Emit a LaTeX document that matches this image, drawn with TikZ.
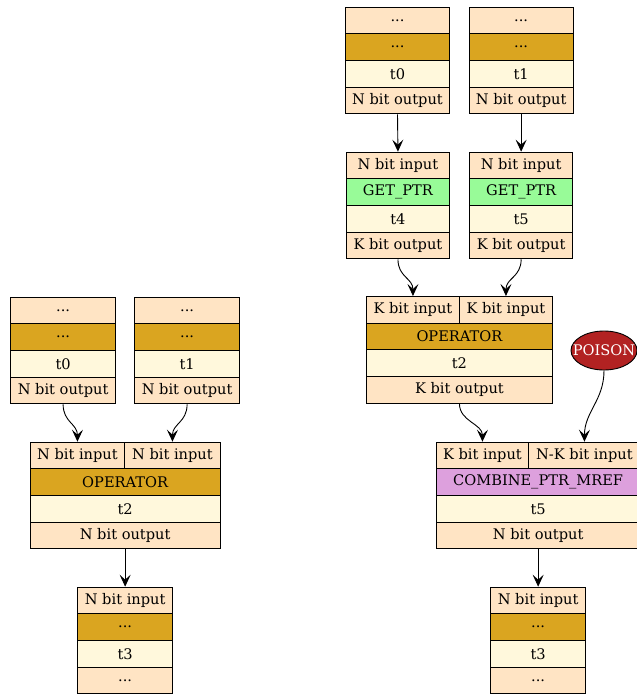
\documentclass[tikz,border=0pt]{standalone}
\usepackage{fontspec}
\setmainfont{DejaVu Serif}
\usetikzlibrary{arrows.meta,shapes.geometric}
\definecolor{bisque}{HTML}{FFE4C4}
\definecolor{goldenrod}{HTML}{DAA520}
\definecolor{cornsilk}{HTML}{FFF8DC}
\definecolor{palegreen}{HTML}{98FB98}
\definecolor{plum}{HTML}{DDA0DD}
\definecolor{firebrick}{HTML}{B22222}
\tikzset{
  cell/.style={draw=black, line width=0.9pt, inner sep=0pt, anchor=north west,
    minimum height=26.67pt, font=\fontsize{14.6}{16}\selectfont},
  bq/.style={cell, fill=bisque},
  gr/.style={cell, fill=goldenrod},
  cs/.style={cell, fill=cornsilk},
  pg/.style={cell, fill=palegreen},
  pl/.style={cell, fill=plum},
  edge/.style={-{Stealth[length=12pt,width=11pt,inset=5pt]}, line width=0.9pt},
}
\begin{document}
\begin{tikzpicture}[x=1pt,y=-1pt]
\useasboundingbox (0,0) rectangle (637,696);
% ---------------- left graph ----------------
\node[bq, minimum width=104.7pt] (l0a) at (10.3,296.7) {...};
\node[gr, minimum width=104.7pt] (l0b) at (10.3,323.3) {...};
\node[cs, minimum width=104.7pt] (l0c) at (10.3,350) {t0};
\node[bq, minimum width=104.7pt] (l0d) at (10.3,376.7) {N bit output};
\node[bq, minimum width=104.7pt] (l1a) at (134.3,296.7) {...};
\node[gr, minimum width=104.7pt] (l1b) at (134.3,323.3) {...};
\node[cs, minimum width=104.7pt] (l1c) at (134.3,350) {t1};
\node[bq, minimum width=104.7pt] (l1d) at (134.3,376.7) {N bit output};
\node[bq, minimum width=94.6pt] (lopa) at (29.7,441.7) {N bit input};
\node[bq, minimum width=95.4pt] (lopb) at (124.3,441.7) {N bit input};
\node[gr, minimum width=190pt] (lopc) at (29.7,468.3) {OPERATOR};
\node[cs, minimum width=190pt] (lopd) at (29.7,495) {t2};
\node[bq, minimum width=190pt] (lope) at (29.7,521.7) {N bit output};
\node[bq, minimum width=95pt] (l3a) at (77.2,586.7) {N bit input};
\node[gr, minimum width=95pt] (l3b) at (77.2,613.3) {...};
\node[cs, minimum width=95pt] (l3c) at (77.2,640) {t3};
\node[bq, minimum width=95pt] (l3d) at (77.2,666.7) {...};
\draw[edge] (l0d.south) .. controls +(0,18) and +(0,-18) .. (lopa.north);
\draw[edge] (l1d.south) .. controls +(0,18) and +(0,-18) .. (lopb.north);
\draw[edge] (lope.south) -- (l3a.north);
% ---------------- right graph ----------------
\node[bq, minimum width=104.7pt] (r0a) at (344.7,6.7) {...};
\node[gr, minimum width=104.7pt] (r0b) at (344.7,33.3) {...};
\node[cs, minimum width=104.7pt] (r0c) at (344.7,60) {t0};
\node[bq, minimum width=104.7pt] (r0d) at (344.7,86.7) {N bit output};
\node[bq, minimum width=104pt] (r1a) at (468.7,6.7) {...};
\node[gr, minimum width=104pt] (r1b) at (468.7,33.3) {...};
\node[cs, minimum width=104pt] (r1c) at (468.7,60) {t1};
\node[bq, minimum width=104pt] (r1d) at (468.7,86.7) {N bit output};
\node[bq, minimum width=103.6pt] (r4a) at (345.7,151.7) {N bit input};
\node[pg, minimum width=103.6pt] (r4b) at (345.7,178.3) {GET\_PTR};
\node[cs, minimum width=103.6pt] (r4c) at (345.7,205) {t4};
\node[bq, minimum width=103.6pt] (r4d) at (345.7,231.7) {K bit output};
\node[bq, minimum width=103pt] (r5a) at (469.2,151.7) {N bit input};
\node[pg, minimum width=103pt] (r5b) at (469.2,178.3) {GET\_PTR};
\node[cs, minimum width=103pt] (r5c) at (469.2,205) {t5};
\node[bq, minimum width=103pt] (r5d) at (469.2,231.7) {K bit output};
\node[bq, minimum width=93pt] (ropa) at (366,296) {K bit input};
\node[bq, minimum width=93pt] (ropb) at (459,296) {K bit input};
\node[gr, minimum width=186pt] (ropc) at (366,322.7) {OPERATOR};
\node[cs, minimum width=186pt] (ropd) at (366,349.3) {t2};
\node[bq, minimum width=186pt] (rope) at (366,376) {K bit output};
\node[ellipse, draw=black, line width=0.9pt, fill=firebrick,
  minimum width=66pt, minimum height=39pt, inner sep=0pt,
  label={[text=white, inner sep=0pt, font=\fontsize{14.6}{16}\selectfont]center:POISON}]
  (poison) at (604,350.5) {};
\node[bq, minimum width=92.6pt] (cba) at (435.7,441.7) {K bit input};
\node[bq, minimum width=111.4pt] (cbb) at (528.3,441.7) {N-K bit input};
\node[pl, minimum width=204pt] (cbc) at (435.7,468.3) {COMBINE\_PTR\_MREF};
\node[cs, minimum width=204pt] (cbd) at (435.7,495) {t5};
\node[bq, minimum width=204pt] (cbe) at (435.7,521.7) {N bit output};
\node[bq, minimum width=95pt] (r3a) at (490.2,586.7) {N bit input};
\node[gr, minimum width=95pt] (r3b) at (490.2,613.3) {...};
\node[cs, minimum width=95pt] (r3c) at (490.2,640) {t3};
\node[bq, minimum width=95pt] (r3d) at (490.2,666.7) {...};
\draw[edge] (r0d.south) -- (r4a.north);
\draw[edge] (r1d.south) -- (r5a.north);
\draw[edge] (r4d.south) .. controls +(0,18) and +(0,-18) .. (ropa.north);
\draw[edge] (r5d.south) .. controls +(0,18) and +(0,-18) .. (ropb.north);
\draw[edge] (rope.south) .. controls +(0,18) and +(0,-18) .. (cba.north);
\draw[edge] (poison.south) .. controls +(0,30) and +(0,-30) .. (cbb.north);
\draw[edge] (cbe.south) -- (r3a.north);
\end{tikzpicture}
\end{document}
